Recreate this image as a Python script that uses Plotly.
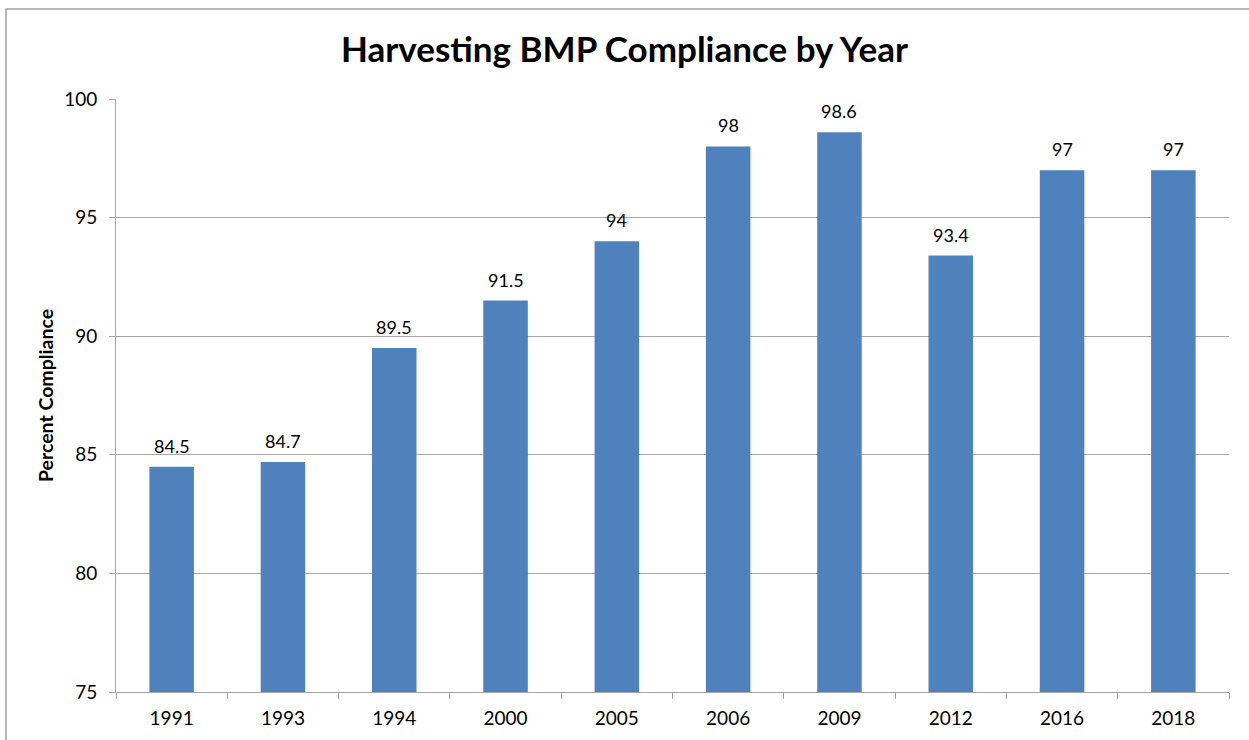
import plotly.graph_objects as go

years = ["1991", "1993", "1994", "2000", "2005", "2006", "2009", "2012", "2016", "2018"]
compliance = [84.5, 84.7, 89.5, 91.5, 94, 98, 98.6, 93.4, 97, 97]
labels = ["84.5", "84.7", "89.5", "91.5", "94", "98", "98.6", "93.4", "97", "97"]
y_ticks = [75, 80, 85, 90, 95, 100]

W, H = 1249, 740
PL, PR, PT, PB = 116, 1229, 99, 692
L, T, R, B = PL, PT, W - PR, H - PB
pw, ph = W - L - R, H - T - B

FONT = "Lato, Carlito, sans-serif"

fig = go.Figure()
fig.add_trace(go.Bar(
    x=years, y=compliance,
    marker=dict(color="#4F81BD", line=dict(width=0)),
    width=0.4, cliponaxis=False, hoverinfo="x+y",
))

annotations = [
    dict(x=i, y=v, xref="x", yref="y", text=lab, showarrow=False,
         xanchor="center", yanchor="bottom", yshift=8,
         font=dict(family=FONT, size=18, color="#000000"))
    for i, (v, lab) in enumerate(zip(compliance, labels))
]

def px_x(p):
    return (p - PL) / pw

def px_y(p):
    return (PB - p) / ph

fig.update_layout(
    width=W, height=H,
    margin=dict(l=L, r=R, t=T, b=B),
    paper_bgcolor="white", plot_bgcolor="white",
    showlegend=False,
    font=dict(family=FONT, color="#000000"),
    title=dict(text="<b>Harvesting BMP Compliance by Year</b>",
               x=0.5, xanchor="center", y=1 - 50 / H, yanchor="middle",
               font=dict(size=35, family=FONT, color="#000000")),
    xaxis=dict(type="category", categoryorder="array", categoryarray=years,
               range=[-0.5, len(years) - 0.5],
               tickson="boundaries", ticks="outside", ticklen=6,
               tickcolor="#A6A6A6", showline=True, linecolor="#A6A6A6", linewidth=1,
               showgrid=False, tickfont=dict(size=19), ticklabelstandoff=9, tickangle=0),
    yaxis=dict(range=[75, 100], tickvals=y_ticks, ticks="outside", ticklen=6,
               tickcolor="#A6A6A6", showline=True, linecolor="#A6A6A6", linewidth=1,
               showgrid=True, gridcolor="#A6A6A6", gridwidth=1, zeroline=False,
               tickfont=dict(size=19), ticklabelstandoff=8,
               title=dict(text="<b>Percent Compliance</b>", font=dict(size=19.5), standoff=5)),
    annotations=annotations,
    shapes=[dict(type="rect", xref="paper", yref="paper",
                 x0=px_x(6), x1=px_x(1262), y0=px_y(752), y1=px_y(9),
                 line=dict(color="#A0A0A0", width=1.5), fillcolor="rgba(0,0,0,0)", layer="below")],
)

fig.write_html("out.html", config={"displayModeBar": False},
               post_script="document.body.style.margin='0';")
